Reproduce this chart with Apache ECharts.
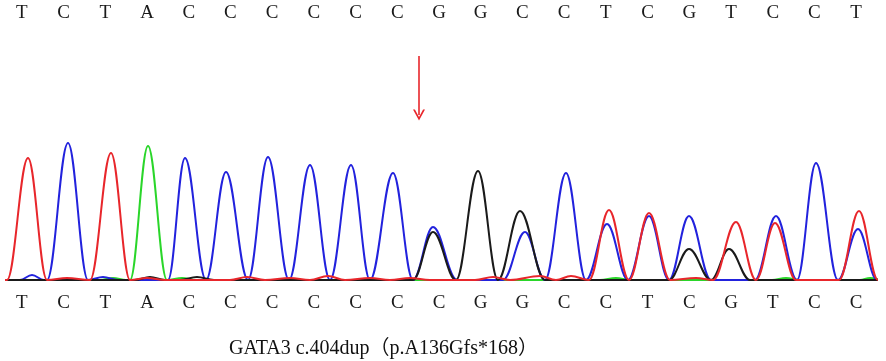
<!DOCTYPE html>
<html>
<head>
<meta charset="utf-8">
<title>GATA3 c.404dup</title>
<script src="https://cdn.jsdelivr.net/npm/echarts@6/dist/echarts.min.js"></script>
<style>
  html, body { margin: 0; padding: 0; background: #fff; }
  #chart { width: 886px; height: 361px; }
</style>
</head>
<body>
<div id="chart"></div>
<script>
// ===== Sequence calls =====
const refSeq  = ['T','C','T','A','C','C','C','C','C','C','G','G','C','C','T','C','G','T','C','C','T'];
const callSeq = ['T','C','T','A','C','C','C','C','C','C','C','G','G','C','C','T','C','G','T','C','C'];

// ===== Trace data: [scan position, signal] =====
const traceT = [ // red
  [5,0],[7,0],[28,1220],[47,0],[67,20],[90,0],[111,1270],[130,0],[147,20],[165,0],
  [230,0],[247,30],[265,0],[290,20],[310,0],[328,40],[345,0],[370,20],[390,0],[410,20],
  [430,0],[475,0],[493,30],[510,0],[540,40],[556,0],[571,40],[589,0],[609,700],[629,0],
  [649,670],[670,0],[696,20],[713,0],[736,580],[756,0],[775,570],[796,0],[839,0],
  [859,690],[878,0],[880,0]
];
const traceC = [ // blue
  [5,0],[20,0],[32,50],[44,0],[47,0],[68,1370],[88,0],[103,30],[118,0],[168,0],
  [185,1220],[206,0],[226,1080],[248,0],[268,1230],[289,0],[310,1150],[330,0],
  [351,1150],[370,0],[393,1070],[413,0],[433,530],[457,0],[503,0],[525,480],[545,0],
  [566,1070],[586,0],[607,560],[628,0],[649,640],[669,0],[689,640],[711,0],[755,0],
  [776,640],[797,0],[816,1170],[838,0],[858,510],[877,0],[880,0]
];
const traceA = [ // green
  [5,0],[100,0],[113,20],[126,0],[130,0],[148,1340],[167,0],[182,20],[196,0],
  [600,0],[616,20],[630,0],[772,0],[786,20],[800,0],[860,0],[870,20],[880,0]
];
const traceG = [ // black
  [5,0],[135,0],[150,30],[165,0],[180,0],[197,30],[214,0],[413,0],[433,480],[456,0],
  [478,1090],[498,0],[520,690],[545,0],[669,0],[689,310],[711,0],[729,310],[750,0],[880,0]
];

// arrow marking the duplicated C
const arrowPos = 419;
const arrowFrom = 2240;
const arrowTo = 1650;

const title = 'GATA3 c.404dup（p.A136Gfs*168）';

// ===== Chart =====
const chart = echarts.init(document.getElementById('chart'), null, { renderer: 'canvas' });

const letterStyle = { fontFamily: 'Liberation Serif, Times New Roman, serif', fontSize: 19, color: '#1a1a1a' };

function trace(name, data, color, z) {
  return {
    name, type: 'line', data, z,
    xAxisIndex: 0, yAxisIndex: 0,
    showSymbol: false, smooth: 0.38, smoothMonotone: 'x',
    lineStyle: { color, width: 2 },
    animation: false, silent: true
  };
}

const series = [
  trace('A', traceA, '#2ad62a', 2),
  trace('C', traceC, '#2222dd', 3),
  trace('G', traceG, '#1a1a1a', 4),
  trace('T', traceT, '#e8262b', 5)
];

series[3].markLine = {
  silent: true,
  symbol: ['none', 'path://M0,10 L5,0 L10,10 L8.4,10 L5,3.2 L1.6,10 Z'],
  symbolSize: [12, 11],
  label: { show: false },
  lineStyle: { color: '#e8262b', width: 1.6, type: 'solid' },
  data: [[{ coord: [arrowPos, arrowFrom] }, { coord: [arrowPos, arrowTo] }]]
};

chart.setOption({
  backgroundColor: '#fff',
  animation: false,
  title: {
    text: title,
    left: 224, top: 334,
    textStyle: { fontFamily: 'Liberation Serif, Times New Roman, Noto Sans CJK SC, serif', fontSize: 20, fontWeight: 'normal', color: '#111' }
  },
  grid: { left: 1, right: 9, top: 40, bottom: 81 },
  xAxis: [
    { type: 'value', min: 1, max: 877, show: false },
    { type: 'category', position: 'top', offset: 9, data: refSeq, boundaryGap: true,
      axisLine: { show: false }, axisTick: { show: false }, splitLine: { show: false },
      axisLabel: Object.assign({ margin: 8, interval: 0 }, letterStyle) },
    { type: 'category', position: 'bottom', data: callSeq, boundaryGap: true,
      axisLine: { show: false }, axisTick: { show: false }, splitLine: { show: false },
      axisLabel: Object.assign({ margin: 14, interval: 0 }, letterStyle) }
  ],
  yAxis: { type: 'value', min: 0, max: 2400, show: false },
  series
});
</script>
</body>
</html>
